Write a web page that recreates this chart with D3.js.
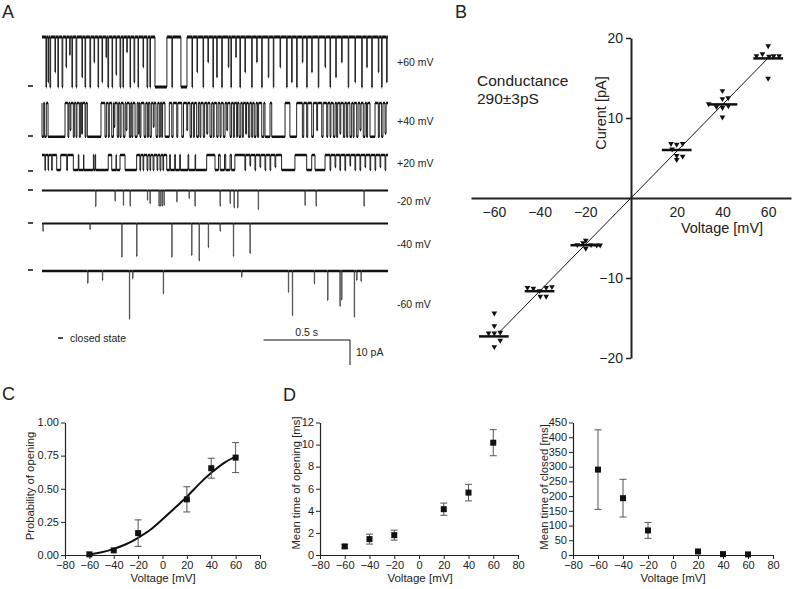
<!DOCTYPE html>
<html>
<head>
<meta charset="utf-8">
<script src="https://cdn.jsdelivr.net/npm/d3@7"></script>
<style>
  body { margin: 0; background: #fff; }
  svg { font-family: "Liberation Sans", Arial, Helvetica, sans-serif; fill: #222; }
  .ax path, .ax line { stroke: #222; }
  .ax text { fill: #222; }
</style>
</head>
<body>
<svg id="fig" width="793" height="589"></svg>
<script>
/* ---------- panel A: single channel records ---------- */
// events in ms: [start, duration, depth as fraction of the unitary current]
var traceLabels = ["+60 mV", "+40 mV", "+20 mV", "-20 mV", "-40 mV", "-60 mV"];
var traceAmps = [20, 13.5, 6, 6.8, 14.8, 19]; // pA
var events60 = [[23,3,1],[35,3,0.9],[46,4,1],[75,3,0.7],[92,3,1],[116,4,1],[139,3,0.6],[160,3,0.35],[173,3,1],[197,4,1],[231,3,0.8],[249,3,1],[277,4,1],[301,3,0.5],[324,3,1],[347,3,0.9],[370,3,0.4],[381,4,1],[405,3,1],[428,3,0.75],[451,4,1],[468,3,1],[490,3,0.3],[509,3,1],[532,4,0.9],[555,3,1],[584,3,0.6],[607,4,1],[624,3,1],[653,69,1],[751,3,1],[803,35,1],[867,3,1],[896,3,0.7],[931,3,1],[959,3,0.5],[988,3,1],[1010,3,0.8],[1039,3,1],[1077,3,0.6],[1092,3,1],[1120,3,0.4],[1144,3,1],[1173,3,0.7],[1212,3,1],[1241,3,0.5],[1270,3,1],[1308,3,0.8],[1337,3,1],[1376,3,0.6],[1414,3,1],[1443,3,0.9],[1472,3,1],[1505,3,0.5],[1530,3,1],[1559,3,0.7],[1597,3,1],[1636,3,0.6],[1665,3,1],[1698,3,0.8],[1732,3,0.5],[1770,3,1],[1809,3,0.9],[1848,3,1],[1877,3,0.6],[1906,3,1],[1944,3,0.7],[1963,3,1],[1992,3,0.9]];
var events40 = [[0,10,1],[15,10,1],[35,98,1],[150,5,1],[162,5,0.8],[181,6,1],[197,5,1],[216,6,1],[229,5,0.9],[249,5,1],[262,79,1],[364,8,1],[383,6,1],[403,10,1],[416,5,0.7],[435,8,1],[451,6,1],[470,10,1],[486,5,0.8],[505,8,1],[519,6,1],[538,12,1],[557,5,0.9],[566,6,1],[590,10,1],[609,6,1],[624,8,1],[643,5,0.7],[659,10,1],[678,6,1],[692,5,1],[711,25,1],[750,8,1],[779,6,1],[808,10,1],[837,5,0.8],[856,8,1],[875,6,1],[894,10,1],[913,5,1],[932,8,1],[952,6,0.9],[971,10,1],[990,5,1],[1010,8,1],[1029,6,1],[1048,10,1],[1068,5,0.8],[1087,8,1],[1106,6,1],[1125,5,1],[1139,10,1],[1158,6,1],[1177,5,0.9],[1193,8,1],[1212,6,1],[1227,10,1],[1246,6,1],[1270,12,1],[1289,29,1],[1328,77,1],[1433,39,1],[1505,8,1],[1530,6,1],[1559,10,1],[1588,5,0.8],[1617,8,1],[1646,6,1],[1665,5,1],[1684,10,1],[1703,6,1],[1722,5,0.9],[1742,8,1],[1761,6,1],[1780,10,1],[1799,5,1],[1819,8,1],[1838,6,0.8],[1857,10,1],[1876,6,1],[1896,29,1],[1944,6,1],[1963,8,1],[1983,6,0.9]];
var events20 = [[17,3,1],[35,3,1],[56,3,1],[85,23,1],[143,4,1],[181,29,1],[213,27,1],[242,55,1],[300,7,1],[310,73,1],[403,25,1],[430,21,1],[480,67,1],[566,4,1],[584,4,1],[607,5,1],[624,4,1],[642,5,1],[665,4,1],[682,5,1],[699,4,1],[721,17,1],[742,25,1],[771,25,1],[800,44,1],[848,37,1],[888,64,1],[1000,20,1],[1030,25,1],[1062,25,1],[1095,20,1],[1173,4,1],[1202,4,0.7],[1231,4,1],[1260,4,0.8],[1289,4,1],[1318,4,1],[1347,4,0.8],[1385,77,1],[1530,29,1],[1578,58,1],[1665,4,1],[1694,4,0.8],[1722,4,1],[1751,4,1],[1780,4,0.7],[1809,4,1],[1838,4,1],[1867,4,0.8],[1896,4,1],[1925,4,1],[1954,4,0.8],[1983,4,1]];
var eventsM20 = [[310,2,0.92],[422,2,0.6],[470,2,0.85],[509,2,0.9],[609,2,0.55],[624,2,0.75],[676,2,0.9],[686,2,0.9],[695,2,0.9],[705,2,0.85],[779,2,0.65],[850,2,0.45],[884,2,0.9],[1029,2,0.9],[1087,2,0.75],[1110,2,1],[1131,2,1],[1250,2,1.1],[1520,2,0.85],[1584,2,0.9],[1861,2,0.9]];
var eventsM40 = [[5,2,0.2],[277,2,0.15],[461,2,0.9],[547,2,0.88],[750,2,0.9],[865,2,0.85],[908,2,1],[961,2,0.64],[1029,2,0.2],[1106,2,0.88],[1202,2,0.8]];
var eventsM60 = [[264,2,0.25],[349,2,0.19],[505,2,1],[524,2,0.15],[701,2,0.47],[1154,2,0.12],[1424,2,0.44],[1447,2,0.93],[1574,2,0.26],[1651,2,0.61],[1722,2,0.73],[1732,2,0.6],[1805,2,0.96],[1819,2,0.19],[1844,2,0.21]];
var traceEvents = [events60, events40, events20, eventsM20, eventsM40, eventsM60];

/* ---------- panel B: current-voltage relation ---------- */
var ivVoltage = [-60, -40, -20, 20, 40, 60];
var ivMean = [-17.3, -11.65, -5.9, 6.0, 11.7, 17.45];
var ivPointV = [-59.8,-59.8,-62.3,-59.8,-57.2,-57.2,-59.8, -45.3,-42.7,-40,-37.1,-34.6,-39.7,-37.1, -19.8,-21,-23.5,-17.5,-15,-19.8,-13.5, 17.5,20,22.6,18,20,22.6,20, 40,40,42.5,37.4,40,42.6,40,34, 60,54.9,57.5,60.4,62.4,64.8,60];
var ivPointI = [-14.4,-16.0,-16.9,-16.9,-16.8,-17.8,-18.6, -11.2,-11.3,-11.6,-11.2,-11.1,-12.3,-12.3, -5.3,-5.6,-5.85,-5.85,-5.9,-6.3,-5.9, 6.8,6.7,6.8,6.1,5.3,5.2,4.8, 13.4,12.4,12.5,11.4,11.3,11.5,10.1,11.75, 19.0,17.75,18.0,17.7,17.75,17.75,14.95];
var ivFitV = [-58, 60];
var ivFitI = [-16.9, 17.5];

/* ---------- panels C, D ---------- */
var stepV = [-60, -40, -20, 20, 40, 60];
var pOpen = [0.005, 0.035, 0.165, 0.42, 0.655, 0.735];
var pOpenErr = [0, 0, 0.10, 0.095, 0.075, 0.113];
var fitV = [-60, -50, -40, -30, -20, -10, 0, 10, 20, 30, 40, 50, 60];
var fitP = [0.005, 0.02, 0.046, 0.081, 0.13, 0.19, 0.27, 0.354, 0.44, 0.535, 0.62, 0.692, 0.742];
var tOpen = [0.78, 1.44, 1.8, 4.15, 5.65, 10.17];
var tOpenErr = [0.15, 0.45, 0.45, 0.55, 0.75, 1.18];
var tClosed = [290, 193, 83.5, 12, 3, 2];
var tClosedErr = [135, 64, 27, 0, 0, 0];

var svg = d3.select("#fig");

function letter(t, x, y) {
  svg.append("text").attr("x", x).attr("y", y).style("font-size", "18px").text(t);
}
letter("A", 2, 18);
letter("B", 455, 18);
letter("C", 2, 400);
letter("D", 283, 401);

// ---- A ----
var tx = d3.scaleLinear().domain([0, 2000]).range([42, 388]);
var pA = d3.scaleLinear().domain([0, 10]).range([0, 25]);
var traceY = [37, 103, 155, 190.5, 223.5, 271];
var closedY = [86, 136, 171, 190, 223, 270];
var labelY = [66, 125, 167, 205, 248, 308];
var levelWidth = [3, 2.6, 2.4, 2, 2.2, 2.6]; // recording noise band

traceEvents.forEach(function(ev, i) {
  var pts = [[0, 0]];
  ev.forEach(function(e) {
    var dy = pA(e[2] * traceAmps[i]);
    pts.push([e[0], 0], [e[0], dy], [e[0] + e[1], dy], [e[0] + e[1], 0]);
  });
  pts.push([2000, 0]);
  var line = d3.line()
      .x(function(d) { return tx(d[0]); })
      .y(function(d) { return traceY[i] + d[1]; });
  svg.append("path")
      .attr("d", line(pts))
      .attr("fill", "none")
      .attr("stroke", i < 3 ? "#222" : "#555")
      .attr("stroke-width", 1);

  // flat stretches drawn thicker, like the noise of the record
  var flat = d3.path();
  for (var k = 0; k < pts.length - 1; k++) {
    if (pts[k][1] === pts[k + 1][1] && pts[k + 1][0] > pts[k][0]) {
      flat.moveTo(tx(pts[k][0]), traceY[i] + pts[k][1]);
      flat.lineTo(tx(pts[k + 1][0]), traceY[i] + pts[k][1]);
    }
  }
  svg.append("path")
      .attr("d", flat.toString())
      .attr("fill", "none")
      .attr("stroke", "#111")
      .attr("stroke-width", levelWidth[i]);

  svg.append("line")
      .attr("x1", 28).attr("x2", 33)
      .attr("y1", closedY[i]).attr("y2", closedY[i])
      .attr("stroke", "#111").attr("stroke-width", 1.5);
  svg.append("text")
      .attr("x", 397).attr("y", labelY[i])
      .style("font-size", "10.5px")
      .text(traceLabels[i]);
});

// legend + scale bar
svg.append("line").attr("x1", 58).attr("x2", 63).attr("y1", 338).attr("y2", 338)
    .attr("stroke", "#111").attr("stroke-width", 1.5);
svg.append("text").attr("x", 70).attr("y", 342).style("font-size", "10.5px").text("closed state");
var sbX = 350, sbY = 340, sbW = tx(500) - tx(0);
svg.append("path")
    .attr("d", "M" + (sbX - sbW) + "," + sbY + "H" + sbX + "V" + (sbY + pA(10)))
    .attr("fill", "none").attr("stroke", "#111").attr("stroke-width", 1);
svg.append("text").attr("x", sbX - sbW / 2).attr("y", 336).attr("text-anchor", "middle")
    .style("font-size", "10.5px").text("0.5 s");
svg.append("text").attr("x", 356).attr("y", 356).style("font-size", "10.5px").text("10 pA");

// ---- B ----
var bx = d3.scaleLinear().domain([-70, 70]).range([471, 791]);
var by = d3.scaleLinear().domain([-20, 20]).range([358, 38]);

var bxAxis = svg.append("g").attr("class", "ax")
    .attr("transform", "translate(0," + by(0) + ")")
    .call(d3.axisBottom(bx).tickValues([-60, -40, -20, 20, 40, 60]).tickSize(0).tickPadding(9));
var byAxis = svg.append("g").attr("class", "ax")
    .attr("transform", "translate(" + bx(0) + ",0)")
    .call(d3.axisLeft(by).tickValues([-20, -10, 10, 20]).tickSize(5).tickSizeOuter(0).tickPadding(3));
[bxAxis, byAxis].forEach(function(g) {
  g.select(".domain").attr("stroke-width", 2);
  g.selectAll(".tick line").attr("stroke-width", 1.5);
  g.selectAll("text").style("font-size", "14px").attr("font-family", null);
});

svg.append("text").attr("transform", "translate(606,113) rotate(-90)")
    .attr("text-anchor", "middle").style("font-size", "14.5px").text("Curent [pA]");
svg.append("text").attr("x", 722).attr("y", 233)
    .attr("text-anchor", "middle").style("font-size", "14.5px").text("Voltage [mV]");
svg.append("text").attr("x", 477).attr("y", 86).style("font-size", "15.5px").text("Conductance");
svg.append("text").attr("x", 477).attr("y", 104).style("font-size", "15.5px").text("290\u00b13pS");

svg.append("line")
    .attr("x1", bx(ivFitV[0])).attr("y1", by(ivFitI[0]))
    .attr("x2", bx(ivFitV[1])).attr("y2", by(ivFitI[1]))
    .attr("stroke", "#111").attr("stroke-width", 1);

svg.selectAll(".mbar").data(ivVoltage).enter().append("line")
    .attr("x1", function(d) { return bx(d - 6.5); })
    .attr("x2", function(d) { return bx(d + 6.5); })
    .attr("y1", function(d, i) { return by(ivMean[i]); })
    .attr("y2", function(d, i) { return by(ivMean[i]); })
    .attr("stroke", "#111").attr("stroke-width", 2.5);

var tri = d3.symbol().type(d3.symbolTriangle).size(14);
svg.selectAll(".pt").data(ivPointV).enter().append("path")
    .attr("d", tri)
    .attr("transform", function(d, i) {
      return "translate(" + bx(d) + "," + by(ivPointI[i]) + ") rotate(180)";
    })
    .attr("fill", "#111");

// ---- C and D ----
function smallPanel(x0, x1, yMax, yTicks, fmt) {
  var sx = d3.scaleLinear().domain([-80, 80]).range([x0, x1]);
  var sy = d3.scaleLinear().domain([0, yMax]).range([555, 422.5]);
  var gx = svg.append("g").attr("class", "ax").attr("transform", "translate(0,555)")
      .call(d3.axisBottom(sx).tickValues(d3.range(-80, 81, 20)).tickSize(4).tickPadding(2).tickSizeOuter(0));
  var gy = svg.append("g").attr("class", "ax").attr("transform", "translate(" + x0 + ",0)")
      .call(d3.axisLeft(sy).tickValues(yTicks).tickSize(4).tickPadding(2).tickSizeOuter(0).tickFormat(fmt));
  [gx, gy].forEach(function(g) {
    g.select(".domain").attr("stroke-width", 1.2);
    g.selectAll("text").style("font-size", "11px").attr("font-family", null);
  });
  gy.selectAll(".tick text").attr("dy", "0.3em");
  return { x: sx, y: sy };
}

function markers(p, means, errs) {
  var g = svg.append("g");
  stepV.forEach(function(v, i) {
    var cx = p.x(v);
    if (errs[i] > 0) {
      var yt = p.y(means[i] + errs[i]), yb = p.y(means[i] - errs[i]);
      g.append("path")
          .attr("d", "M" + (cx - 3.5) + "," + yt + "H" + (cx + 3.5) + "M" + cx + "," + yt + "V" + yb +
                     "M" + (cx - 3.5) + "," + yb + "H" + (cx + 3.5))
          .attr("stroke", "#555").attr("stroke-width", 1).attr("fill", "none");
    }
    g.append("rect").attr("x", cx - 3).attr("y", p.y(means[i]) - 3)
        .attr("width", 6).attr("height", 6).attr("fill", "#111");
  });
}

function yTitle(t, x, y) {
  svg.append("text").attr("transform", "translate(" + x + "," + y + ") rotate(-90)")
      .attr("text-anchor", "middle").style("font-size", "11.3px").text(t);
}
function xTitle(x) {
  svg.append("text").attr("x", x).attr("y", 582)
      .attr("text-anchor", "middle").style("font-size", "11.5px").text("Voltage [mV]");
}

var pc = smallPanel(65, 260, 1, [0, 0.25, 0.5, 0.75, 1], d3.format(".2f"));
svg.append("path")
    .attr("d", d3.line().curve(d3.curveMonotoneX)
        .x(function(d) { return pc.x(d); })
        .y(function(d, i) { return pc.y(fitP[i]); })(fitV))
    .attr("fill", "none").attr("stroke", "#111").attr("stroke-width", 2);
markers(pc, pOpen, pOpenErr);
yTitle("Probability of opening", 34, 486);
xTitle(163);

var pd1 = smallPanel(320, 518, 12, d3.range(0, 13, 2), d3.format("d"));
markers(pd1, tOpen, tOpenErr);
yTitle("Mean time of opening [ms]", 300, 483);
xTitle(420);

var pd2 = smallPanel(573, 773, 450, d3.range(0, 451, 50), d3.format("d"));
markers(pd2, tClosed, tClosedErr);
yTitle("Mean time of closed [ms]", 548, 487);
xTitle(673);
</script>
</body>
</html>
